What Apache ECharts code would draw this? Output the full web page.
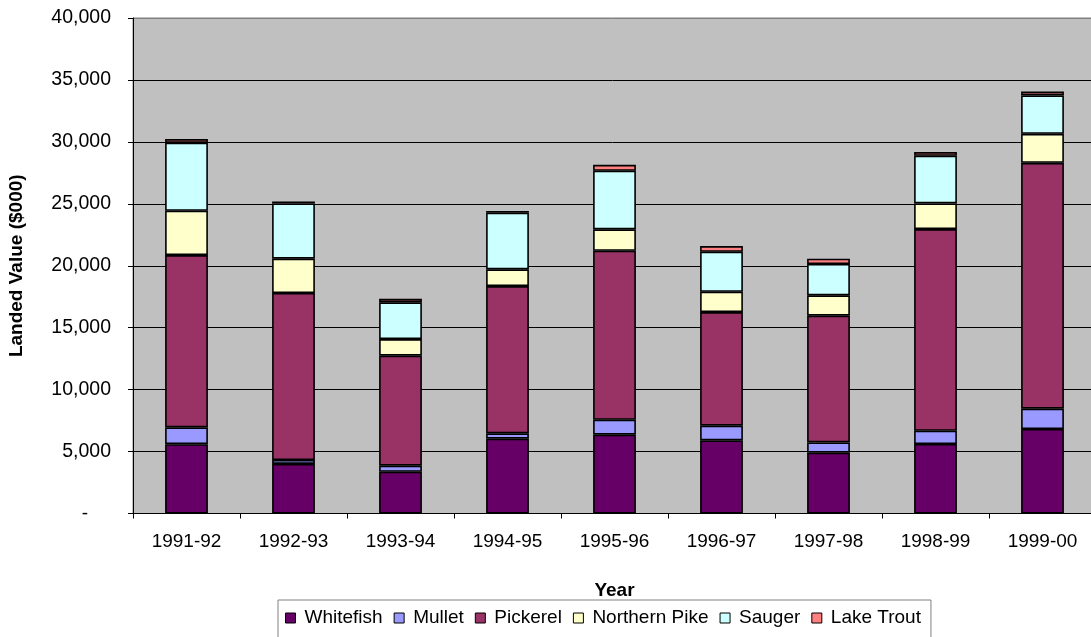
<!DOCTYPE html>
<html>
<head>
<meta charset="utf-8">
<script src="https://cdn.jsdelivr.net/npm/echarts@6/dist/echarts.min.js"></script>
<style>
html,body{margin:0;padding:0;background:#fff;}
#chart{width:1091px;height:637px;}
</style>
</head>
<body>
<div id="chart"></div>
<script>
var categories = ['1991-92','1992-93','1993-94','1994-95','1995-96','1996-97','1997-98','1998-99','1999-00'];
var whitefish    = [5600, 4000, 3370, 6040, 6360, 5910, 4910, 5610, 6820];
var mullet       = [1360, 320, 490, 430, 1210, 1180, 830, 1070, 1640];
var pickerel     = [13900, 13480, 8880, 11890, 13640, 9170, 10230, 16280, 19850];
var northernPike = [3580, 2770, 1340, 1350, 1730, 1640, 1640, 2070, 2340];
var sauger       = [5490, 4460, 2970, 4570, 4730, 3230, 2530, 3850, 3100];
var lakeTrout    = [300, 150, 280, 130, 480, 460, 430, 300, 310];

var seriesNames = ['Whitefish','Mullet','Pickerel','Northern Pike','Sauger','Lake Trout'];
var seriesData = [whitefish, mullet, pickerel, northernPike, sauger, lakeTrout];
var colors = ['#660066','#9999FF','#993366','#FFFFCC','#CCFFFF','#FF8080'];

var FONT = '"Liberation Sans", Arial, sans-serif';

var chart = echarts.init(document.getElementById('chart'), null, {renderer:'canvas'});

var series = seriesNames.map(function(n, i){
  return {
    name: n,
    type: 'bar',
    stack: 'total',
    barWidth: '40%',
    data: seriesData[i],
    itemStyle: { color: colors[i], borderColor: '#000', borderWidth: 1.6 },
    emphasis: { disabled: true }
  };
});

var splitColors = ['#000','#000','#000','#000','#000','#000','#000','#000','#808080'];

chart.setOption({
  animation: false,
  color: colors,
  textStyle: { fontFamily: FONT },
  grid: {
    left: 133, top: 18, width: 963, height: 495.5,
    containLabel: false,
    outerBoundsMode: 'none',
    show: true, backgroundColor: '#C0C0C0', borderColor: '#808080', borderWidth: 1
  },
  legend: {
    left: 278, top: 600,
    padding: [8, 10, 20, 7],
    borderColor: '#808080', borderWidth: 1,
    itemWidth: 10, itemHeight: 10, itemGap: 11,
    icon: 'rect',
    itemStyle: { borderColor: '#000', borderWidth: 1 },
    textStyle: { fontSize: 19, color: '#000', fontFamily: FONT, lineHeight: 20, padding: [0, 0, 0, 4] },
    data: seriesNames
  },
  xAxis: {
    type: 'category',
    data: categories,
    name: 'Year',
    nameLocation: 'middle',
    nameGap: 68,
    nameTextStyle: { fontSize: 19, fontWeight: 'bold', color: '#000', fontFamily: FONT },
    axisLine: { lineStyle: { color: '#000', width: 1 } },
    axisTick: { show: true, length: 5, inside: false, lineStyle: { color: '#000' } },
    axisLabel: { fontSize: 19, color: '#000', margin: 19, fontFamily: FONT, interval: 0 }
  },
  yAxis: {
    type: 'value',
    min: 0, max: 40000, interval: 5000,
    name: 'Landed Value ($000)',
    nameLocation: 'middle',
    nameGap: 107,
    nameTextStyle: { fontSize: 19, fontWeight: 'bold', color: '#000', fontFamily: FONT },
    axisLine: { show: true, lineStyle: { color: '#000', width: 1 } },
    axisTick: { show: true, length: 5, inside: false, lineStyle: { color: '#000' } },
    axisLabel: {
      fontSize: 19.5, color: '#000', margin: 22, fontFamily: FONT,
      formatter: function(v){
        if (v === 0) return '{d|-}';
        return v.toString().replace(/\B(?=(\d{3})+(?!\d))/g, ',');
      },
      rich: { d: { fontSize: 19, color: '#000', padding: [0, 23, 0, 0], fontFamily: FONT } }
    },
    splitLine: { show: true, lineStyle: { color: splitColors, width: 1 } }
  },
  series: series
});
</script>
</body>
</html>
